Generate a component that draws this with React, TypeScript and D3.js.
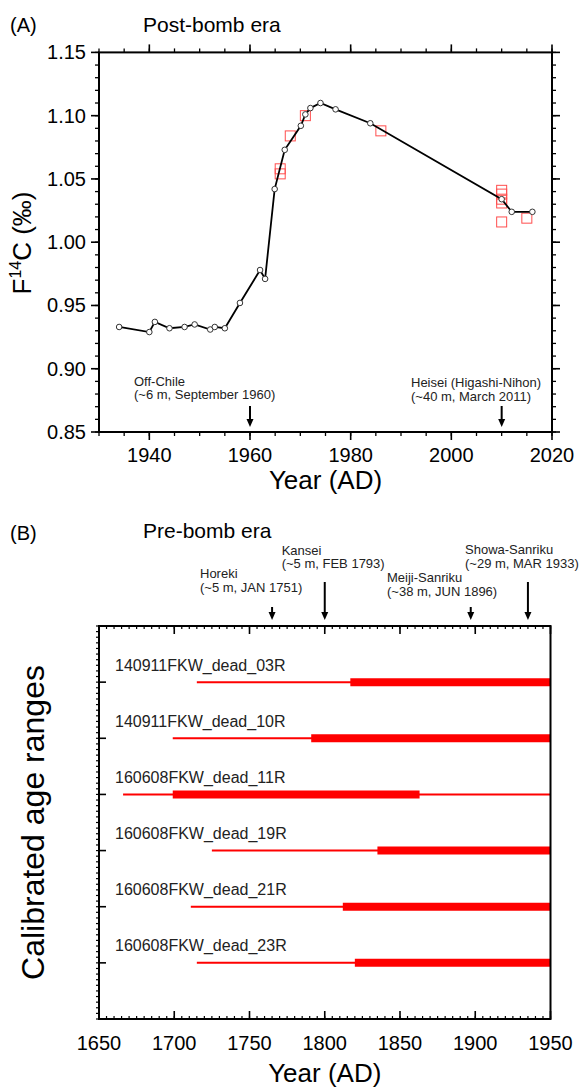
import React from "react";
import * as d3 from "d3";

// ---------- Panel A data (post-bomb era) ----------
const postYears = [1934.0, 1940.0, 1941.1, 1944.0, 1947.0, 1949.0, 1952.1, 1953.0, 1955.0, 1958.0, 1962.0, 1963.0, 1964.9, 1966.9, 1970.1, 1971.0, 1972.0, 1974.0, 1977.0, 1983.9, 2010.0, 2012.0, 2016.1];
const postF14C = [0.933, 0.929, 0.937, 0.932, 0.933, 0.935, 0.931, 0.933, 0.932, 0.952, 0.978, 0.971, 1.042, 1.073, 1.092, 1.101, 1.106, 1.110, 1.105, 1.094, 1.034, 1.024, 1.024];
const sampleYears = [1966, 1966, 1968, 1971, 1986, 2010, 2010, 2010, 2010, 2010, 2015];
const sampleF14C = [1.058, 1.054, 1.084, 1.100, 1.088, 1.041, 1.038, 1.034, 1.031, 1.016, 1.019];
const postXTicks = [1940, 1960, 1980, 2000, 2020];
const postYTicks = [0.85, 0.9, 0.95, 1.0, 1.05, 1.1, 1.15];
const postEvents = [
  { year: 1960, line1: "Off-Chile", line2: "(~6 m, September 1960)" },
  { year: 2010, line1: "Heisei (Higashi-Nihon)", line2: "(~40 m, March 2011)" },
];

// ---------- Panel B data (pre-bomb era) ----------
const samples = ["140911FKW_dead_03R", "140911FKW_dead_10R", "160608FKW_dead_11R", "160608FKW_dead_19R", "160608FKW_dead_21R", "160608FKW_dead_23R"];
const range95Start = [1715, 1699, 1666, 1725, 1711, 1715];
const range95End = [1950, 1950, 1950, 1950, 1950, 1950];
const range68Start = [1817, 1791, 1699, 1835, 1812, 1820];
const range68End = [1950, 1950, 1863, 1950, 1950, 1950];
const preXTicks = [1650, 1700, 1750, 1800, 1850, 1900, 1950];
const preEvents = [
  { year: 1765, line1: "Horeki", line2: "(~5 m, JAN 1751)", long: false },
  { year: 1800, line1: "Kansei", line2: "(~5 m, FEB 1793)", long: true },
  { year: 1897, line1: "Meiji-Sanriku", line2: "(~38 m, JUN 1896)", long: false },
  { year: 1935, line1: "Showa-Sanriku", line2: "(~29 m, MAR 1933)", long: true },
];

const FONT = "'Liberation Sans', Arial, Helvetica, sans-serif";
const ANN = 13;

function Arrow({ x, y1, y2 }: { x: number; y1: number; y2: number }) {
  const hw = 3.5;
  const hh = 8;
  return (
    <g>
      <line x1={x} x2={x} y1={y1} y2={y2 - hh + 1} stroke="#000" strokeWidth={2} />
      <path d={`M${x - hw},${y2 - hh} L${x + hw},${y2 - hh} L${x},${y2} Z`} fill="#000" />
    </g>
  );
}

export default function App() {
  // Panel A scales
  const ax = d3.scaleLinear().domain([1930, 2020]).range([99, 552]);
  const ay = d3.scaleLinear().domain([0.85, 1.15]).range([432, 52.4]);
  const aTop = ay(1.15), aBot = ay(0.85), aL = ax(1930), aR = ax(2020);
  const xMinorA = d3.range(1930, 2020.1, 5);
  const yMinorA = d3.range(0, 31).map((i) => 0.85 + i * 0.01);
  const line = d3
    .line<number>()
    .x((_, i) => ax(postYears[i]))
    .y((d) => ay(d));

  // Panel B scales
  const bx = d3.scaleLinear().domain([1650, 1950]).range([99, 550.5]);
  const by = d3.scaleLinear().domain([0, 7]).range([626, 1019]);
  const bTop = by(0), bBot = by(7), bL = bx(1650), bR = bx(1950);
  const xMinorB = d3.range(1650, 1950.1, 5);
  const yMinorB = d3.range(0, 71).map((i) => i * 0.1);

  return (
    <svg width={583} height={1089} style={{ position: "absolute", left: 0, top: 0, background: "#fff" }} fontFamily={FONT}>
      <rect width={583} height={1089} fill="#fff" />

      {/* ================= Panel A ================= */}
      <text x={10} y={32} fontSize={20}>(A)</text>
      <text x={143} y={32} fontSize={21}>Post-bomb era</text>

      {/* minor ticks */}
      {xMinorA.map((v) => (
        <g key={"axm" + v}>
          <line x1={ax(v)} x2={ax(v)} y1={aBot} y2={aBot + 4} stroke="#000" strokeWidth={1.3} />
          <line x1={ax(v)} x2={ax(v)} y1={aTop} y2={aTop - 4} stroke="#000" strokeWidth={1.3} />
        </g>
      ))}
      {yMinorA.map((v, i) => (
        <g key={"aym" + i}>
          <line x1={aL} x2={aL - 4} y1={ay(v)} y2={ay(v)} stroke="#000" strokeWidth={1.3} />
          <line x1={aR} x2={aR + 4} y1={ay(v)} y2={ay(v)} stroke="#000" strokeWidth={1.3} />
        </g>
      ))}
      {/* major ticks */}
      {postXTicks.map((v) => (
        <g key={"axM" + v}>
          <line x1={ax(v)} x2={ax(v)} y1={aBot} y2={aBot + 8} stroke="#000" strokeWidth={1.6} />
          <line x1={ax(v)} x2={ax(v)} y1={aTop} y2={aTop - 8} stroke="#000" strokeWidth={1.6} />
          <text x={ax(v)} y={aBot + 30} fontSize={20} textAnchor="middle">{v}</text>
        </g>
      ))}
      {postYTicks.map((v) => (
        <g key={"ayM" + v}>
          <line x1={aL} x2={aL - 8} y1={ay(v)} y2={ay(v)} stroke="#000" strokeWidth={1.6} />
          <line x1={aR} x2={aR + 8} y1={ay(v)} y2={ay(v)} stroke="#000" strokeWidth={1.6} />
          <text x={86} y={ay(v) + 7} fontSize={20} textAnchor="end">{v.toFixed(2)}</text>
        </g>
      ))}
      <rect x={aL} y={aTop} width={aR - aL} height={aBot - aTop} fill="none" stroke="#000" strokeWidth={2} />

      {/* axis titles */}
      <text x={ax(1975)} y={489} fontSize={26} textAnchor="middle">Year (AD)</text>
      <text transform={`translate(31,243) rotate(-90)`} fontSize={26} textAnchor="middle">
        F<tspan fontSize={16} dy={-10}>14</tspan><tspan dy={10}>C (‰)</tspan>
      </text>

      {/* samples (red squares) */}
      {sampleYears.map((yr, i) => (
        <rect key={"sq" + i} x={ax(yr) - 5} y={ay(sampleF14C[i]) - 5} width={10} height={10} fill="none" stroke="#ff4d4d" strokeWidth={1} />
      ))}
      {/* atmospheric curve */}
      <path d={line(postF14C) || ""} fill="none" stroke="#000" strokeWidth={1.8} />
      {postF14C.map((v, i) => (
        <circle key={"c" + i} cx={ax(postYears[i])} cy={ay(v)} r={2.8} fill="#fff" stroke="#333" strokeWidth={1} />
      ))}

      {/* events */}
      {postEvents.map((e, i) => (
        <g key={"pe" + i}>
          <Arrow x={ax(e.year)} y1={406} y2={427} />
        </g>
      ))}
      <text x={134} y={385.5} fontSize={ANN} fill="#222">{postEvents[0].line1}</text>
      <text x={134} y={399} fontSize={ANN} fill="#222">{postEvents[0].line2}</text>
      <text x={411} y={387} fontSize={ANN} fill="#222">{postEvents[1].line1}</text>
      <text x={411} y={400.5} fontSize={ANN} fill="#222">{postEvents[1].line2}</text>

      {/* ================= Panel B ================= */}
      <text x={10} y={539.5} fontSize={20}>(B)</text>
      <text x={143} y={537.5} fontSize={21}>Pre-bomb era</text>

      {/* event arrows and labels */}
      {preEvents.map((e, i) => (
        <Arrow key={"ba" + i} x={bx(e.year)} y1={e.long ? 582 : 607} y2={620} />
      ))}
      <text x={200} y={578} fontSize={ANN} fill="#222">{preEvents[0].line1}</text>
      <text x={200} y={592} fontSize={ANN} fill="#222">{preEvents[0].line2}</text>
      <text x={281.7} y={554.5} fontSize={ANN} fill="#222">{preEvents[1].line1}</text>
      <text x={281.7} y={568} fontSize={ANN} fill="#222">{preEvents[1].line2}</text>
      <text x={387} y={581.5} fontSize={ANN} fill="#222">{preEvents[2].line1}</text>
      <text x={387} y={595.5} fontSize={ANN} fill="#222">{preEvents[2].line2}</text>
      <text x={465} y={554} fontSize={ANN} fill="#222">{preEvents[3].line1}</text>
      <text x={465} y={568} fontSize={ANN} fill="#222">{preEvents[3].line2}</text>

      {/* minor ticks */}
      {xMinorB.map((v) => (
        <g key={"bxm" + v}>
          <line x1={bx(v)} x2={bx(v)} y1={bBot} y2={bBot - 3} stroke="#000" strokeWidth={1.2} />
          <line x1={bx(v)} x2={bx(v)} y1={bTop} y2={bTop + 3} stroke="#000" strokeWidth={1.2} />
        </g>
      ))}
      {yMinorB.map((v, i) => (
        <line key={"bym" + i} x1={bL} x2={bL - 3} y1={by(v)} y2={by(v)} stroke="#000" strokeWidth={1.2} />
      ))}
      {preXTicks.map((v) => (
        <g key={"bxM" + v}>
          <line x1={bx(v)} x2={bx(v)} y1={bBot} y2={bBot - 8} stroke="#000" strokeWidth={1.6} />
          <line x1={bx(v)} x2={bx(v)} y1={bTop} y2={bTop + 8} stroke="#000" strokeWidth={1.6} />
          <text x={bx(v)} y={1050} fontSize={20} textAnchor="middle">{v}</text>
        </g>
      ))}
      {samples.map((s, i) => (
        <line key={"byM" + i} x1={bL} x2={bL + 7} y1={by(i + 1)} y2={by(i + 1)} stroke="#000" strokeWidth={1.6} />
      ))}

      {/* ranges */}
      {samples.map((s, i) => (
        <g key={"r" + i}>
          <text x={115} y={by(i + 1) - 11.5} fontSize={16} fill="#222">{s}</text>
          <line x1={bx(range95Start[i])} x2={bx(range95End[i])} y1={by(i + 1)} y2={by(i + 1)} stroke="#ff0000" strokeWidth={2} />
          <line x1={bx(range68Start[i])} x2={bx(range68End[i])} y1={by(i + 1)} y2={by(i + 1)} stroke="#ff0000" strokeWidth={8} />
        </g>
      ))}
      <rect x={bL} y={bTop} width={bR - bL} height={bBot - bTop} fill="none" stroke="#000" strokeWidth={2} />

      <text x={(bL + bR) / 2} y={1082} fontSize={26} textAnchor="middle">Year (AD)</text>
      <text transform={`translate(44,${(bTop + bBot) / 2}) rotate(-90)`} fontSize={32} textAnchor="middle">Calibrated age ranges</text>
    </svg>
  );
}
